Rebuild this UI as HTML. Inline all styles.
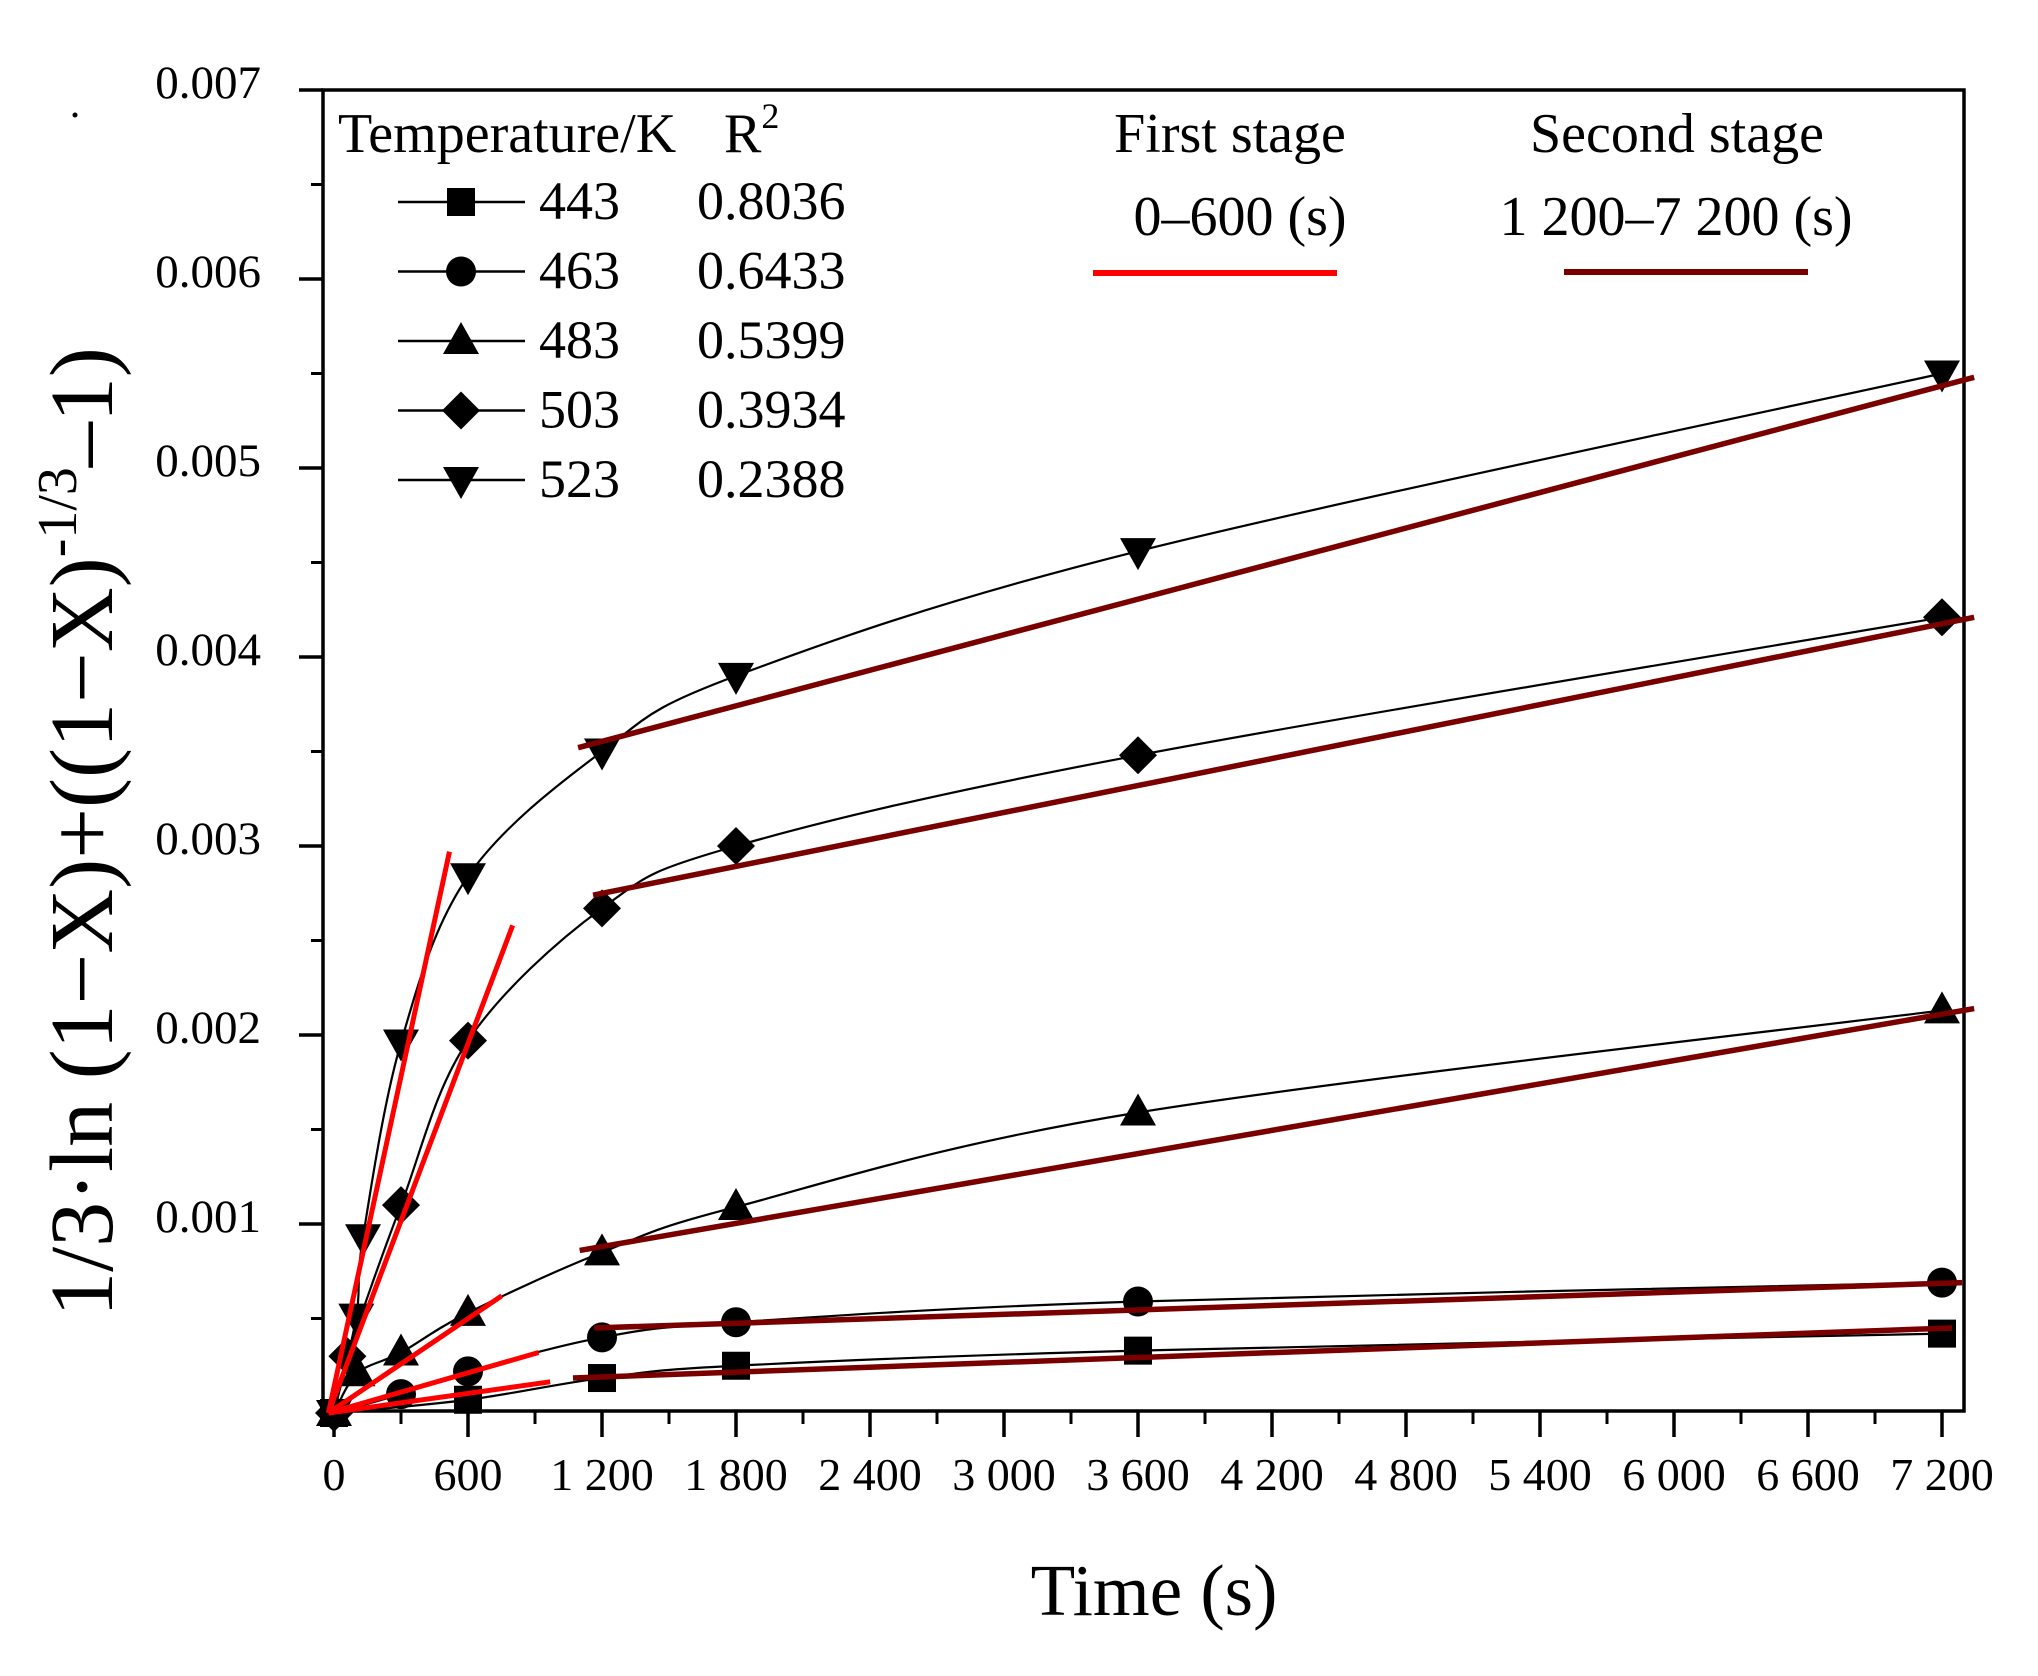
<!DOCTYPE html>
<html><head><meta charset="utf-8"><style>
html,body{margin:0;padding:0;background:#fff;}
svg{display:block;}
text{font-family:"Liberation Serif","DejaVu Serif",serif;fill:#000;}
</style></head><body>
<svg id="chart" width="2038" height="1676" viewBox="0 0 2038 1676" xmlns="http://www.w3.org/2000/svg">
<rect x="0" y="0" width="2038" height="1676" fill="#fff"/>
<circle cx="75" cy="115" r="2.5" fill="#000"/>
<g id="axes"></g>
<g id="series"></g>
<g id="fits"></g>
<text x="1154" y="1615" font-size="73" text-anchor="middle">Time (s)</text>
<text transform="translate(112,832) rotate(-90)" font-size="90" text-anchor="middle">1/3·ln (1−X)+((1−X)<tspan font-size="56" dy="-36">-1/3</tspan><tspan dy="36">–1)</tspan></text>
<g id="legend">
<text x="338" y="152" font-size="56">Temperature/K</text>
<text x="724" y="152" font-size="56">R<tspan font-size="36" dy="-24">2</tspan></text>
<text x="1230" y="152" font-size="56" text-anchor="middle">First stage</text>
<text x="1240" y="235" font-size="56" text-anchor="middle">0–600 (s)</text>
<line x1="1093" y1="273" x2="1337" y2="273" stroke="#ff0000" stroke-width="6"/>
<text x="1677" y="152" font-size="56" text-anchor="middle">Second stage</text>
<text x="1676" y="235" font-size="56" text-anchor="middle">1 200–7 200 (s)</text>
<line x1="1564" y1="272" x2="1808" y2="272" stroke="#7a0000" stroke-width="6"/>
</g>
</svg>
<script>
// ---- data ----
const temps = ['443','463','483','503','523'];
const r2Values = ['0.8036','0.6433','0.5399','0.3934','0.2388'];
const markerKinds = ['square','circle','triangle','diamond','invtriangle'];
const t443 = [0,600,1200,1800,3600,7200];
const v443 = [0,0.00007,0.000185,0.00025,0.00033,0.00042];
const t463 = [0,300,600,1200,1800,3600,7200];
const v463 = [0,0.0001,0.00022,0.0004,0.00048,0.00059,0.00069];
const t483 = [0,105,300,600,1200,1800,3600,7200];
const v483 = [0,0.00021,0.00032,0.00053,0.00085,0.00109,0.00159,0.00213];
const t503 = [0,60,300,600,1200,1800,3600,7200];
const v503 = [0,0.0003,0.0011,0.00197,0.00267,0.003,0.00348,0.00421];
const t523 = [0,100,130,300,600,1200,1800,3600,7200];
const v523 = [0,0.00051,0.00093,0.00196,0.00284,0.0035,0.0039,0.00456,0.0055];
// first stage fits: [tStart, vStart, tEnd, vEnd]
const firstFit443 = [-25,0,968,0.000165];
const firstFit463 = [-25,0,916,0.00032];
const firstFit483 = [-25,0,751,0.00062];
const firstFit503 = [-25,0,800,0.00258];
const firstFit523 = [-25,0,517,0.00297];
// second stage fits
const secondFit443 = [1070,0.000185,7245,0.00045];
const secondFit463 = [1165,0.00045,7290,0.00069];
const secondFit483 = [1100,0.00086,7344,0.00214];
const secondFit503 = [1160,0.00274,7344,0.00421];
const secondFit523 = [1093,0.00352,7344,0.00548];
const xTicks = [0,600,1200,1800,2400,3000,3600,4200,4800,5400,6000,6600,7200];
const xTickLabels = ['0','600','1 200','1 800','2 400','3 000','3 600','4 200','4 800','5 400','6 000','6 600','7 200'];
const yTicks = [0.001,0.002,0.003,0.004,0.005,0.006,0.007];
const yTickLabels = ['0.001','0.002','0.003','0.004','0.005','0.006','0.007'];

const NS='http://www.w3.org/2000/svg';
function xS(t){return 334 + t*1608/7200;}
function yS(v){return 1413 - v*189000;}
function mk(tag, attrs, parent){const e=document.createElementNS(NS,tag);for(const k in attrs)e.setAttribute(k,attrs[k]);parent.appendChild(e);return e;}

const axes=document.getElementById('axes');
const frame = mk('rect',{x:323,y:90,width:1641,height:1321,fill:'none',stroke:'#000','stroke-width':3.5},axes);


for(let i=0;i<xTicks.length;i++){
  const x=xS(xTicks[i]);
  const tk=mk('line',{x1:x,y1:1411,x2:x,y2:1437,stroke:'#000','stroke-width':3.5},axes);
  
  
  const lb=mk('text',{x:x,y:1490,'font-size':46,'text-anchor':'middle'},axes);
  lb.textContent=xTickLabels[i];
  
  
  if(i<xTicks.length-1){
    const xm=xS((xTicks[i]+xTicks[i+1])/2);
    const mt=mk('line',{x1:xm,y1:1411,x2:xm,y2:1424,stroke:'#000','stroke-width':3},axes);
    
    
  }
}
for(let i=0;i<yTicks.length;i++){
  const y=yS(yTicks[i]);
  const tk=mk('line',{x1:299,y1:y,x2:323,y2:y,stroke:'#000','stroke-width':3.5},axes);
  
  
  const lb=mk('text',{x:261,y:y+8,'font-size':47,'text-anchor':'end'},axes);
  lb.textContent=yTickLabels[i];
  
  
  const ym=yS(yTicks[i]-0.0005);
  const mt=mk('line',{x1:311,y1:ym,x2:323,y2:ym,stroke:'#000','stroke-width':3},axes);
  
  
}

function marker(kind,cx,cy,parent){
  let e;
  if(kind==='square') e=mk('rect',{x:cx-14,y:cy-14,width:28,height:28,fill:'#000'},parent);
  else if(kind==='circle') e=mk('circle',{cx:cx,cy:cy,r:15,fill:'#000'},parent);
  else if(kind==='triangle') e=mk('polygon',{points:`${cx},${cy-19} ${cx+18},${cy+13} ${cx-18},${cy+13}`,fill:'#000'},parent);
  else if(kind==='diamond') e=mk('polygon',{points:`${cx},${cy-19} ${cx+19},${cy} ${cx},${cy+19} ${cx-19},${cy}`,fill:'#000'},parent);
  else e=mk('polygon',{points:`${cx-18},${cy-13} ${cx+18},${cy-13} ${cx},${cy+19}`,fill:'#000'},parent);
  return e;
}
function splinePath(pts){
  let d=`M${pts[0][0]},${pts[0][1]}`;
  for(let i=0;i<pts.length-1;i++){
    const p0=pts[Math.max(0,i-1)],p1=pts[i],p2=pts[i+1],p3=pts[Math.min(pts.length-1,i+2)];
    const c1x=p1[0]+(p2[0]-p0[0])/6,c1y=p1[1]+(p2[1]-p0[1])/6;
    const c2x=p2[0]-(p3[0]-p1[0])/6,c2y=p2[1]-(p3[1]-p1[1])/6;
    d+=` C${c1x},${c1y} ${c2x},${c2y} ${p2[0]},${p2[1]}`;
  }
  return d;
}
const allT=[t443,t463,t483,t503,t523];
const allV=[v443,v463,v483,v503,v523];
const firstFits=[firstFit443,firstFit463,firstFit483,firstFit503,firstFit523];
const secondFits=[secondFit443,secondFit463,secondFit483,secondFit503,secondFit523];
const sg=document.getElementById('series');
const fg=document.getElementById('fits');
for(let s=0;s<5;s++){
  const g=mk('g',{},sg);
  
  
  const pts=allT[s].map((t,i)=>[xS(t),yS(allV[s][i])]);
  const p=mk('path',{d:splinePath(pts),fill:'none',stroke:'#000','stroke-width':2.2},g);
  
  
  pts.forEach(pt=>{
    const m=marker(markerKinds[s],pt[0],pt[1],g);
    
    
  });
}
for(let s=0;s<5;s++){
  const sf=secondFits[s];
  const l2=mk('line',{x1:xS(sf[0]),y1:yS(sf[1]),x2:xS(sf[2]),y2:yS(sf[3]),stroke:'#7a0000','stroke-width':5.5},fg);
  
  
  const ff=firstFits[s];
  const l1=mk('line',{x1:xS(ff[0]),y1:yS(ff[1]),x2:xS(ff[2]),y2:yS(ff[3]),stroke:'#ff0000','stroke-width':5},fg);
  
  
}
const lg=document.getElementById('legend');
for(let s=0;s<5;s++){
  const base=219+s*69.5;
  const cy=base-17;
  const g=mk('g',{},lg);
  
  
  const ln=mk('line',{x1:398,y1:cy,x2:525,y2:cy,stroke:'#000','stroke-width':2.5},g);
  
  
  const m=marker(markerKinds[s],461,cy,g);
  
  
  const t1=mk('text',{x:539,y:base,'font-size':54},g);
  t1.textContent=temps[s];
  
  
  const t2=mk('text',{x:697,y:base,'font-size':54},g);
  t2.textContent=r2Values[s];
  
  
}
</script>
</body></html>
